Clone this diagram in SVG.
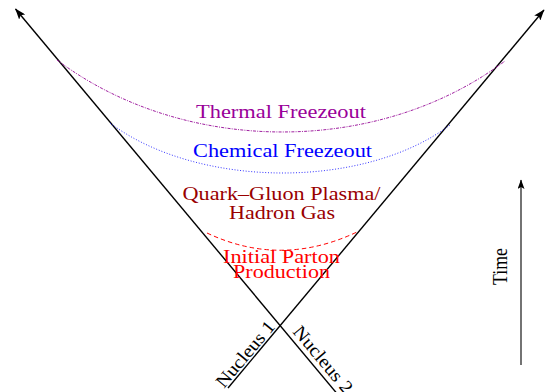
<svg xmlns="http://www.w3.org/2000/svg" width="545" height="392" viewBox="0 0 545 392">
<style>
.t{font-family:"Liberation Serif","Times New Roman",serif;font-size:18.5px;text-anchor:middle}
.lc{stroke:#000;stroke-width:1.4;fill:none}
.cv{fill:none;stroke-width:1}
</style>
<defs>
<marker id="ah" markerUnits="userSpaceOnUse" markerWidth="12" markerHeight="8" refX="10.5" refY="4" orient="auto">
<path d="M0,0 L11,4 L0,8 L2.5,4 z" fill="#000"/>
</marker>
<marker id="ah2" markerUnits="userSpaceOnUse" markerWidth="10" markerHeight="8" refX="9" refY="3.5" orient="auto">
<path d="M0,0 L9.5,3.5 L0,7 L2,3.5 z" fill="#000"/>
</marker>
</defs>
<g id="connectors">
<line class="lc" x1="336.5" y1="393" x2="15.5" y2="9" marker-end="url(#ah)"/>
<line class="lc" x1="228" y1="388" x2="544" y2="10" marker-end="url(#ah)"/>
<line x1="521" y1="365" x2="521" y2="180" stroke="#000" stroke-width="1.1" marker-end="url(#ah2)"/>
</g>
<g id="thermal">
<path class="cv" d="M57,60 C184,155.3 378,156.3 505,61" stroke="#a020a0" stroke-dasharray="3 1.2 1 1.2"/>
<text class="t" x="281" y="118" fill="#990099" textLength="170" lengthAdjust="spacingAndGlyphs">Thermal Freezeout</text>
</g>
<g id="chemical">
<path class="cv" d="M110,123 C197,188.3 363,190.3 450,125" stroke="#3333ff" stroke-dasharray="1 1.8"/>
<text class="t" x="282.5" y="157" fill="#0000ff" textLength="179" lengthAdjust="spacingAndGlyphs">Chemical Freezeout</text>
</g>
<g id="qgp">
<text class="t" x="281.5" y="200" fill="#990000" textLength="198" lengthAdjust="spacingAndGlyphs">Quark–Gluon Plasma/</text>
<text class="t" x="282" y="218.5" fill="#990000" textLength="106" lengthAdjust="spacingAndGlyphs">Hadron Gas</text>
</g>
<g id="initial">
<path class="cv" d="M207,233 Q281,268 357,232" stroke="#ff0000" stroke-dasharray="4.5 3"/>
<text class="t" x="281.5" y="263" fill="#ff0000" textLength="117" lengthAdjust="spacingAndGlyphs">Initial Parton</text>
<text class="t" x="281.5" y="278" fill="#ff0000" textLength="97" lengthAdjust="spacingAndGlyphs">Production</text>
</g>
<g id="nucleus1">
<text class="t" style="text-anchor:start" transform="translate(224,389) rotate(-50)" fill="#000" textLength="81" lengthAdjust="spacingAndGlyphs">Nucleus 1</text>
</g>
<g id="nucleus2">
<text class="t" style="text-anchor:start" transform="translate(292,332) rotate(50)" fill="#000" textLength="82" lengthAdjust="spacingAndGlyphs">Nucleus 2</text>
</g>
<g id="time">
<text class="t" style="text-anchor:start;font-size:17.6px" transform="translate(507,285) rotate(-90) scale(1,1.2)" fill="#000" textLength="37" lengthAdjust="spacingAndGlyphs">Time</text>
</g>
</svg>
